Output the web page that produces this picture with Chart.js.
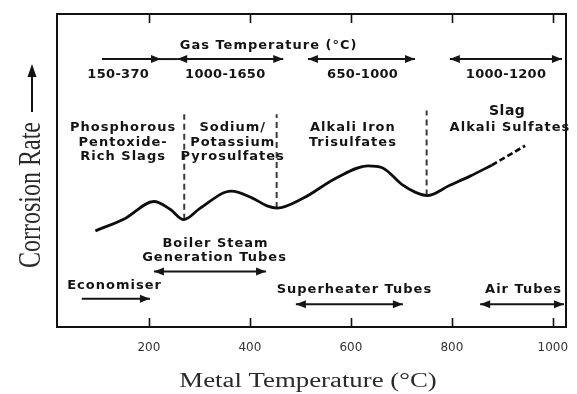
<!DOCTYPE html>
<html>
<head>
<meta charset="utf-8">
<script src="https://cdn.jsdelivr.net/npm/chart.js@4.4.1/dist/chart.umd.min.js"></script>
<style>
  html, body { margin: 0; padding: 0; background: #fff; }
  #wrap { width: 577px; height: 394px; }
</style>
</head>
<body>
<div id="wrap"><canvas id="c" width="577" height="394"></canvas></div>
<script>
// Metal temperature ticks (°C)
const tickValues = [200, 400, 600, 800, 1000];

// Corrosion rate curve (relative units) against metal temperature
const curveTemps = [94, 153, 210, 242, 269, 301, 363, 406, 434, 454, 505, 572, 634, 662, 703, 727, 751, 796, 836, 879];
const curveRates = [30.7, 34.7, 40.1, 37.6, 34.3, 37.9, 43.4, 41.1, 38.7, 38.0, 41.1, 47.7, 51.5, 50.9, 45.3, 43.1, 42.0, 45.3, 48.2, 51.7];

// Extrapolated (dashed) part of the curve
const extTemps = [879, 945];
const extRates = [51.7, 57.9];

// Temperatures separating the corrosive deposit regimes
const boundaryTemps = [270, 453, 750];
const boundaryTop = [68, 68, 69.2];
const boundaryBottom = [34.3, 38.0, 42.0];

// Temperature range arrows: [from, to, level, head at start, head at end]
const rangeArrows = [
  [107, 224, 85.6, false, true],
  [224, 256, 85.6, false, false],
  [256, 466, 85.6, true, true],
  [515, 727, 85.6, true, true],
  [796, 1018, 85.6, true, true],
  [210, 432, 17.7, true, true],
  [67, 202, 9.0, false, true],
  [491, 703, 7.3, true, true],
  [856, 1022, 7.3, true, true]
];

// Text annotations: [text, temperature, level, font size, letter spacing]
const notes = [
  ['Gas Temperature (°C)', 436, 89.9, 13, 1],
  ['150-370', 139, 80.7, 13, 0.3],
  ['1000-1650', 351, 80.7, 13, 0.3],
  ['650-1000', 623, 80.7, 13, 0.3],
  ['1000-1200', 907, 80.7, 13, 0.3],
  ['Phosphorous', 148, 63.6, 13, 1],
  ['Pentoxide-', 148, 59.0, 13, 1],
  ['Rich Slags', 148, 54.4, 13, 1],
  ['Sodium/', 365, 63.6, 13, 1],
  ['Potassium', 365, 59.0, 13, 1],
  ['Pyrosulfates', 365, 54.4, 13, 1],
  ['Alkali Iron', 603, 63.6, 13, 1],
  ['Trisulfates', 603, 59.0, 13, 1],
  ['Slag', 909, 68.8, 14, 0.5],
  ['Alkali Sulfates', 914, 63.6, 13, 1],
  ['Boiler Steam', 331, 26.6, 13, 1],
  ['Generation Tubes', 329, 22.3, 13, 1],
  ['Economiser', 131, 13.3, 13, 1],
  ['Superheater Tubes', 606, 11.9, 13, 1],
  ['Air Tubes', 941, 11.9, 13, 1]
];

const xTitle = 'Metal Temperature (°C)';
const yTitle = 'Corrosion Rate';

const toPoints = (xs, ys) => xs.map((v, i) => ({ x: v, y: ys[i] }));

const boundarySets = boundaryTemps.map((t, i) => ({
  data: [{ x: t, y: boundaryBottom[i] }, { x: t, y: boundaryTop[i] }],
  borderColor: '#3a3a3a',
  borderWidth: 2,
  borderDash: [6, 4],
  pointRadius: 0,
  tension: 0
}));

function drawArrowHead(ctx, tipX, y, dir) {
  const len = 10, half = 4;
  ctx.beginPath();
  ctx.moveTo(tipX, y);
  ctx.lineTo(tipX - dir * len, y - half);
  ctx.lineTo(tipX - dir * len, y + half);
  ctx.closePath();
  ctx.fill();
}

const overlay = {
  id: 'overlay',
  afterDatasetsDraw(chart) {
    const { ctx, chartArea: a, scales: { x, y } } = chart;
    ctx.save();

    // plot frame
    ctx.strokeStyle = '#111';
    ctx.lineWidth = 2;
    ctx.strokeRect(a.left, a.top, a.right - a.left, a.bottom - a.top);

    // inward tick marks on top and bottom edges
    ctx.lineWidth = 1.6;
    tickValues.forEach(v => {
      const px = Math.round(x.getPixelForValue(v)) + 0.5;
      ctx.beginPath();
      ctx.moveTo(px, a.bottom); ctx.lineTo(px, a.bottom - 9);
      ctx.moveTo(px, a.top); ctx.lineTo(px, a.top + 9);
      ctx.stroke();
    });

    // range arrows
    ctx.strokeStyle = '#151515';
    ctx.fillStyle = '#151515';
    ctx.lineWidth = 2;
    rangeArrows.forEach(([from, to, lvl, hs, he]) => {
      const x1 = x.getPixelForValue(from), x2 = x.getPixelForValue(to);
      const py = y.getPixelForValue(lvl);
      ctx.beginPath();
      ctx.moveTo(x1, py); ctx.lineTo(x2, py);
      ctx.stroke();
      if (hs) drawArrowHead(ctx, x1, py, -1);
      if (he) drawArrowHead(ctx, x2, py, 1);
    });

    // annotations
    ctx.fillStyle = '#141414';
    ctx.textAlign = 'center';
    ctx.textBaseline = 'middle';
    notes.forEach(([txt, t, lvl, size, sp]) => {
      ctx.font = 'bold ' + size + 'px "DejaVu Sans", sans-serif';
      ctx.letterSpacing = sp + 'px';
      ctx.fillText(txt, x.getPixelForValue(t) + sp / 2, y.getPixelForValue(lvl));
    });
    ctx.letterSpacing = '0px';

    // x axis title
    ctx.fillStyle = '#2a2a2a';
    ctx.font = '20px "Liberation Serif", serif';
    ctx.save();
    ctx.translate(308, 382);
    ctx.scale(1.34, 1);
    ctx.fillText(xTitle, 0, 0);
    ctx.restore();

    // y axis title with upward arrow
    ctx.font = '24px "Liberation Serif", serif';
    ctx.save();
    ctx.translate(31, 195);
    ctx.rotate(-Math.PI / 2);
    ctx.scale(1, 1.35);
    ctx.fillText(yTitle, 0, 0);
    ctx.restore();

    ctx.strokeStyle = '#111';
    ctx.fillStyle = '#111';
    ctx.lineWidth = 2;
    ctx.beginPath();
    ctx.moveTo(32, 112); ctx.lineTo(32, 74);
    ctx.stroke();
    ctx.beginPath();
    ctx.moveTo(32, 64); ctx.lineTo(27.5, 77); ctx.lineTo(36.5, 77);
    ctx.closePath();
    ctx.fill();

    ctx.restore();
  }
};

new Chart(document.getElementById('c'), {
  type: 'line',
  data: {
    datasets: [
      {
        data: toPoints(curveTemps, curveRates),
        borderColor: '#0d0d0d',
        borderWidth: 2.8,
        pointRadius: 0,
        cubicInterpolationMode: 'monotone'
      },
      {
        data: toPoints(extTemps, extRates),
        borderColor: '#0d0d0d',
        borderWidth: 2.8,
        borderDash: [6, 3],
        pointRadius: 0
      },
      ...boundarySets
    ]
  },
  options: {
    responsive: false,
    animation: false,
    events: [],
    layout: { padding: { left: 57, top: 14, right: 11, bottom: 32.6 } },
    plugins: { legend: { display: false }, tooltip: { enabled: false } },
    scales: {
      x: {
        type: 'linear',
        min: 18,
        max: 1026,
        grid: { display: false },
        border: { display: false },
        afterBuildTicks: s => { s.ticks = tickValues.map(v => ({ value: v })); },
        ticks: {
          padding: 6,
          maxRotation: 0,
          autoSkip: false,
          color: '#333',
          font: { family: '"DejaVu Sans", sans-serif', size: 12 },
          callback: v => String(v)
        }
      },
      y: {
        min: 0,
        max: 100,
        display: false
      }
    }
  },
  plugins: [overlay]
});
</script>
</body>
</html>
